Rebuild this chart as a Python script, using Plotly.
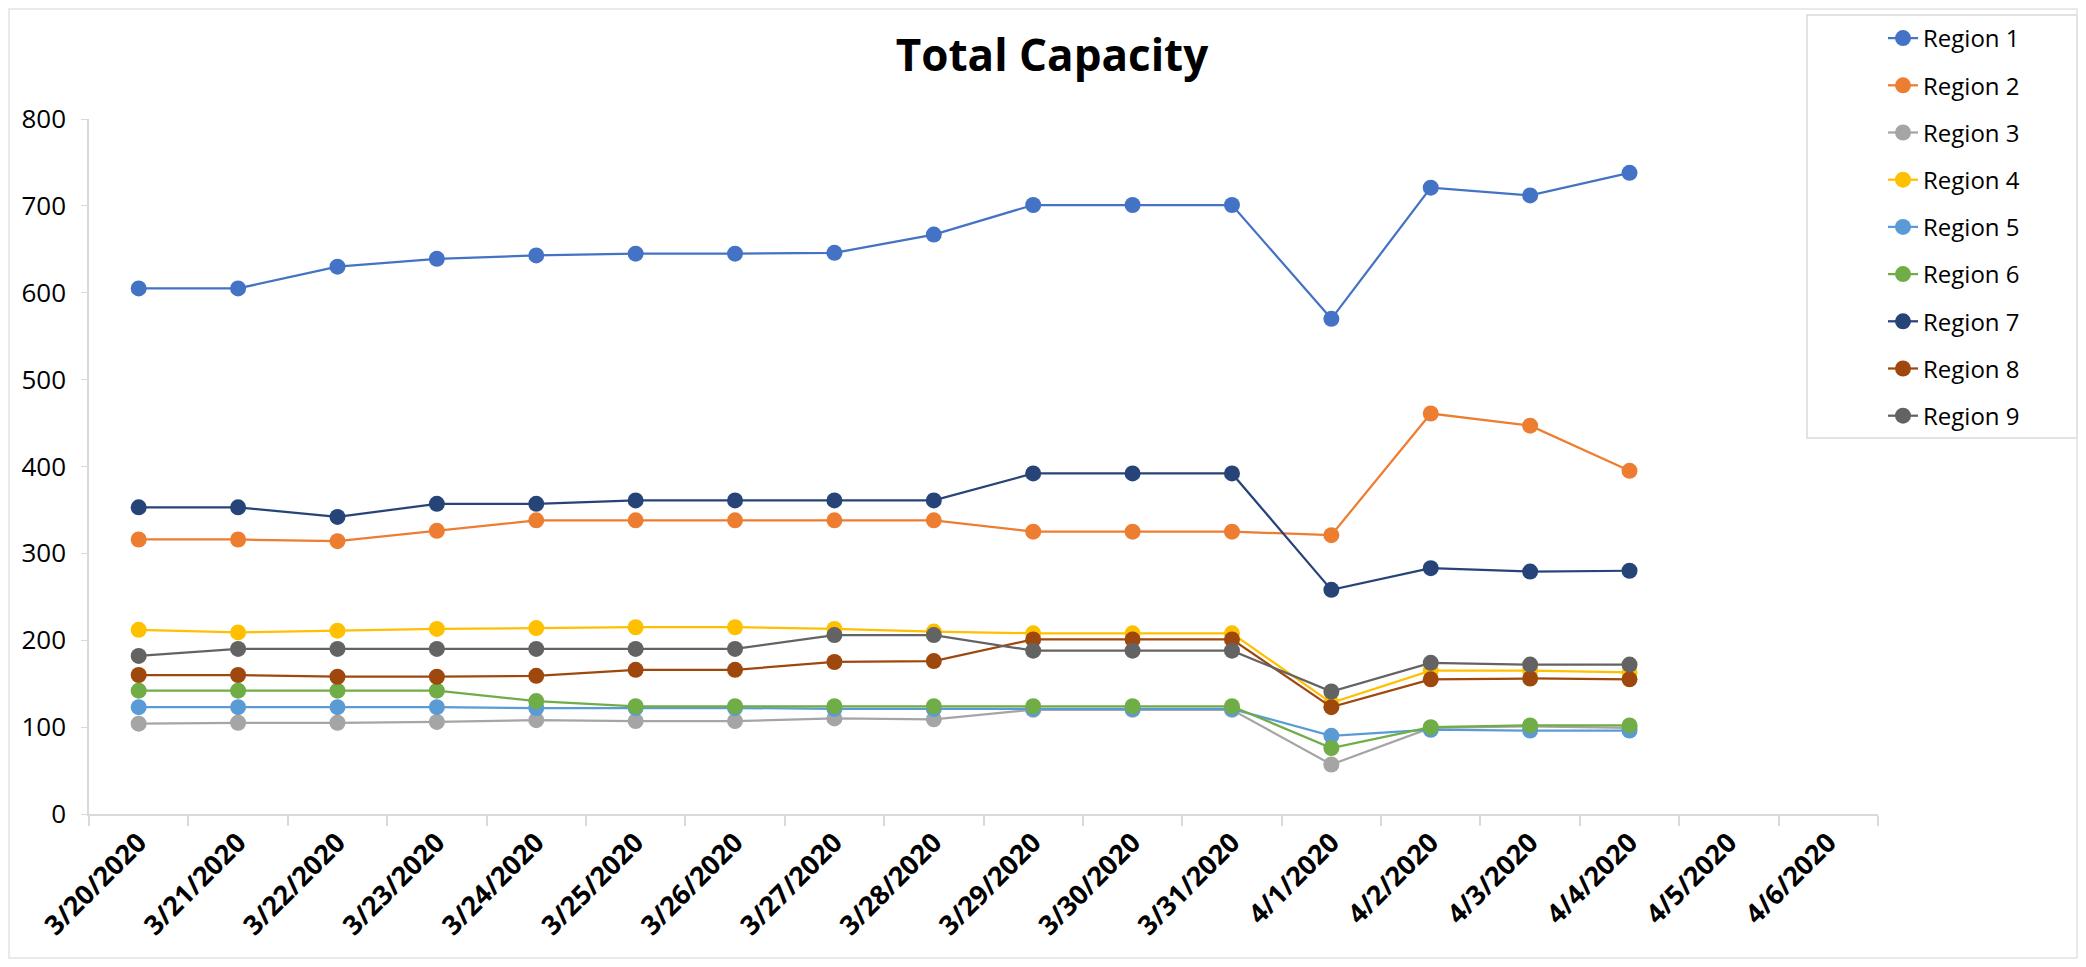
import plotly.graph_objects as go

dates = ["3/20/2020", "3/21/2020", "3/22/2020", "3/23/2020", "3/24/2020", "3/25/2020",
         "3/26/2020", "3/27/2020", "3/28/2020", "3/29/2020", "3/30/2020", "3/31/2020",
         "4/1/2020", "4/2/2020", "4/3/2020", "4/4/2020", "4/5/2020", "4/6/2020"]

region_1 = [605, 605, 630, 639, 643, 645, 645, 646, 667, 701, 701, 701, 570, 721, 712, 738]
region_2 = [316, 316, 314, 326, 338, 338, 338, 338, 338, 325, 325, 325, 321, 461, 447, 395]
region_3 = [104, 105, 105, 106, 108, 107, 107, 110, 109, 120, 120, 120, 57, 99, 101, 99]
region_4 = [212, 209, 211, 213, 214, 215, 215, 213, 210, 208, 208, 208, 128, 165, 165, 163]
region_5 = [123, 123, 123, 123, 122, 122, 122, 121, 121, 121, 121, 121, 90, 97, 96, 96]
region_6 = [142, 142, 142, 142, 130, 124, 124, 124, 124, 124, 124, 124, 76, 100, 102, 102]
region_7 = [353, 353, 342, 357, 357, 361, 361, 361, 361, 392, 392, 392, 258, 283, 279, 280]
region_8 = [160, 160, 158, 158, 159, 166, 166, 175, 176, 201, 201, 201, 123, 155, 156, 155]
region_9 = [182, 190, 190, 190, 190, 190, 190, 206, 206, 188, 188, 188, 141, 174, 172, 172]

series_names = ["Region 1", "Region 2", "Region 3", "Region 4", "Region 5",
                "Region 6", "Region 7", "Region 8", "Region 9"]
series_values = [region_1, region_2, region_3, region_4, region_5,
                 region_6, region_7, region_8, region_9]
colors = ["#4472C4", "#ED7D31", "#A5A5A5", "#FFC000", "#5B9BD5",
          "#70AD47", "#264478", "#9E480E", "#636363"]

y_ticks = [0, 100, 200, 300, 400, 500, 600, 700, 800]

# figure size (page body adds an 8px margin around it)
W, H = 2070, 951
L, R, T, B = 81, 2070 - 1870, 111, 951 - 806
PW, PH = W - L - R, H - T - B


def px_x(px):
    return (px - L) / PW


def px_y(py):
    return (H - B - py) / PH


fig = go.Figure()
for i, (name, vals, col) in enumerate(zip(series_names, series_values, colors)):
    fig.add_trace(go.Scatter(
        x=dates[:len(vals)], y=vals, name=name, mode="lines+markers",
        line=dict(color=col, width=2.25),
        marker=dict(color=col, size=16, symbol="circle"),
        legendgroup=f"g{i}",
    ))

fig.update_layout(
    width=W, height=H,
    margin=dict(l=L, r=R, t=T, b=B, autoexpand=False),
    paper_bgcolor="white", plot_bgcolor="white",
    font=dict(family="Open Sans", size=24, color="black"),
    title=dict(text="<b>Total Capacity</b>", x=1044 / W, xref="container", xanchor="center",
               y=1 - 48 / H, yref="container", yanchor="middle",
               font=dict(family="Open Sans", size=44, color="black")),
    showlegend=True,
    legend=dict(x=px_x(1875), y=px_y(8), xanchor="left", yanchor="top",
                bgcolor="rgba(0,0,0,0)", borderwidth=0,
                font=dict(family="Open Sans", size=24, color="black"),
                tracegroupgap=13),
    xaxis=dict(type="category", categoryorder="array", categoryarray=dates,
               range=[-0.5, len(dates) - 0.5], tickson="boundaries",
               ticks="outside", ticklen=10, tickcolor="#d9d9d9", tickwidth=1.5,
               showline=True, linecolor="#d9d9d9", linewidth=2,
               showgrid=False, zeroline=False, tickangle=-45, automargin=False,
               tickfont=dict(family="Open Sans", size=27, color="black", weight="bold")),
    yaxis=dict(range=[0, 800], tickvals=y_ticks, ticks="outside", ticklen=6,
               tickcolor="#d9d9d9", showline=True, linecolor="#d9d9d9", linewidth=1.5,
               showgrid=False, zeroline=False, ticklabelstandoff=10, automargin=False,
               tickfont=dict(family="Open Sans", size=26, color="black")),
    shapes=[
        dict(type="rect", xref="paper", yref="paper",
             x0=px_x(1799), x1=px_x(2069), y0=px_y(430), y1=px_y(7),
             line=dict(color="#d9d9d9", width=1.5), fillcolor="rgba(0,0,0,0)"),
        dict(type="rect", xref="paper", yref="paper",
             x0=px_x(1), x1=px_x(2069), y0=px_y(950), y1=px_y(1),
             line=dict(color="#e3e3e3", width=1.5), fillcolor="rgba(0,0,0,0)"),
    ],
)

fig.write_html("out.html")
